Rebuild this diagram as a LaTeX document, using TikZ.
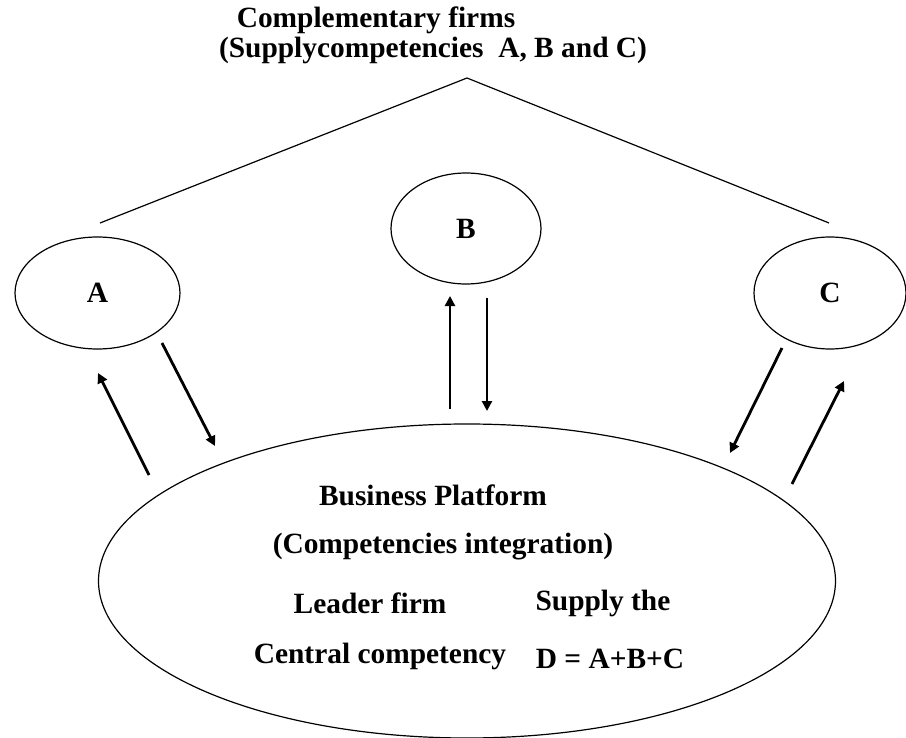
\documentclass[tikz,border=0pt]{standalone}
\usepackage{fontspec}
\setmainfont{Liberation Serif}
\usetikzlibrary{shapes.geometric, arrows.meta}

\tikzset{
    firm/.style={draw, ellipse, line width=0.6pt, inner sep=0pt},
    flow/.style={line width=1.4pt, -{Triangle[length=5pt, width=5pt]}},
    lbl/.style={font=\fontsize{14.7}{17}\selectfont\bfseries, inner sep=0pt}
}

\begin{document}
\begin{tikzpicture}[x=0.5pt, y=-0.5pt]
    \useasboundingbox (0, 0) rectangle (906, 738);

    % Complementary firms on top
    \node[lbl] (title) at (376, 20) {Complementary firms};
    \node[lbl] (subtitle) at (433, 50) {(Supplycompetencies~ A, B and C)};

    \coordinate (roofL) at (100, 223);
    \coordinate (apex) at (467, 78);
    \coordinate (roofR) at (829, 223);
    \draw[line width=0.6pt] (roofL) -- (apex) -- (roofR);

    \node[firm, lbl, minimum width=82.5pt, minimum height=56pt] (A) at (97.5, 293) {A};
    \node[firm, lbl, minimum width=75pt, minimum height=55.5pt] (B) at (466, 228.5) {B};
    \node[firm, lbl, minimum width=76pt, minimum height=56pt] (C) at (830, 293) {C};

    % Business platform
    \node[firm, minimum width=368.5pt, minimum height=157pt] (platform) at (467, 581) {};
    \node[lbl] (bp) at (433, 495) {Business Platform};
    \node[lbl] (integ) at (443, 547) {(Competencies integration)};
    \node[lbl] (leader) at (370, 603) {Leader firm};
    \node[lbl] (supply) at (603, 603) {Supply the};
    \node[lbl] (central) at (380, 656) {Central competency};
    \node[lbl] (sum) at (610, 659) {D = A+B+C};

    % Exchanges between the platform and the firms
    \coordinate (a1) at (149, 475);  \coordinate (a2) at (98, 373);
    \coordinate (a3) at (162, 343);  \coordinate (a4) at (215, 446);
    \coordinate (b1) at (450, 409);  \coordinate (b2) at (450, 296);
    \coordinate (b3) at (487, 298);  \coordinate (b4) at (487, 411);
    \coordinate (c1) at (782, 348);  \coordinate (c2) at (730, 453);
    \coordinate (c3) at (792, 484);  \coordinate (c4) at (844, 381);

    \draw[flow] (a1) -- (a2);
    \draw[flow] (a3) -- (a4);
    \draw[flow] (b1) -- (b2);
    \draw[flow] (b3) -- (b4);
    \draw[flow] (c1) -- (c2);
    \draw[flow] (c3) -- (c4);
\end{tikzpicture}
\end{document}
